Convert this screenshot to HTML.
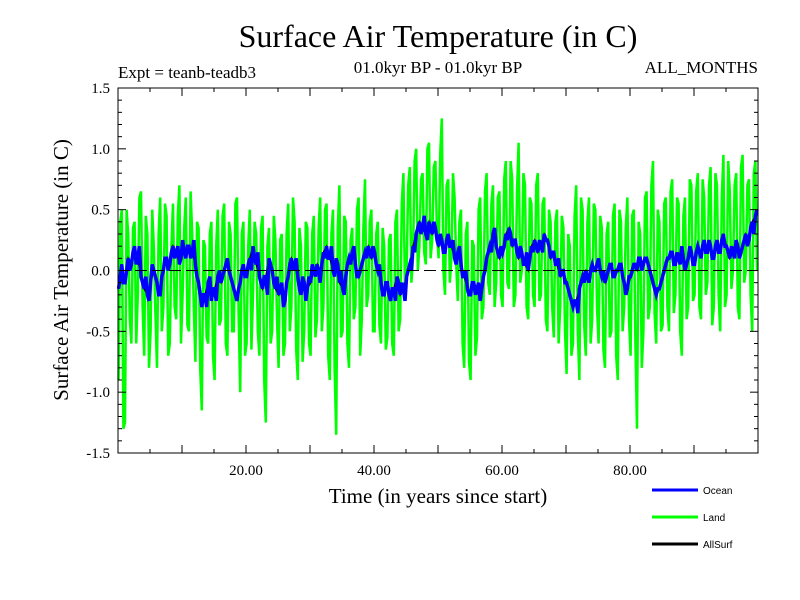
<!DOCTYPE html>
<html><head><meta charset="utf-8"><style>
body{margin:0;background:#fff}
svg{display:block}
text{font-family:"Liberation Serif",serif;fill:#000}
</style></head><body>
<svg id="chart" width="800" height="600">
<text x="438" y="47" font-size="32" text-anchor="middle">Surface Air Temperature (in C)</text>
<text x="118" y="78" font-size="17">Expt = teanb-teadb3</text>
<text x="438" y="73" font-size="17" text-anchor="middle">01.0kyr BP - 01.0kyr BP</text>
<text x="758" y="73" font-size="17" text-anchor="end">ALL_MONTHS</text>
<text x="438" y="503" font-size="21" text-anchor="middle">Time (in years since start)</text>
<text transform="translate(68,270) rotate(-90)" font-size="21" text-anchor="middle">Surface Air Temperature (in C)</text>
<g id="plot"></g>
<g id="axes"></g>
<g>
<g><line x1="652" y1="490" x2="698" y2="490" stroke="#0000ff" stroke-width="3"/><text x="703" y="494" font-size="10" style="font-family:'Liberation Sans',sans-serif">Ocean</text></g>
<g><line x1="652" y1="517" x2="698" y2="517" stroke="#00ff00" stroke-width="3"/><text x="703" y="521" font-size="10" style="font-family:'Liberation Sans',sans-serif">Land</text></g>
<g><line x1="652" y1="544" x2="698" y2="544" stroke="#000" stroke-width="3"/><text x="703" y="548" font-size="10" style="font-family:'Liberation Sans',sans-serif">AllSurf</text></g>
</g>
</svg>
<script>
const xTicks=[20,40,60,80];
const xTickLabels=["20.00","40.00","60.00","80.00"];
const yTicks=[-1.5,-1.0,-0.5,0.0,0.5,1.0,1.5];
const yTickLabels=["-1.5","-1.0","-0.5","0.0","0.5","1.0","1.5"];
const oceanValues=[
-0.15,0.05,-0.1,0.1,0.05,0.2,0.1,-0.05,-0.15,-0.2,-0.1,0.0,-0.1,-0.2,0.0,0.1,0.05,0.2,0.15,0.05,
0.25,0.1,0.2,0.15,0.05,-0.1,-0.3,-0.2,-0.1,-0.25,-0.15,-0.05,-0.1,0.0,0.1,-0.05,-0.15,-0.25,-0.1,0.05,
-0.05,0.1,0.2,0.05,-0.05,-0.15,-0.05,0.1,0.0,-0.15,-0.2,-0.1,-0.25,-0.05,0.1,0.05,-0.05,-0.2,-0.1,-0.15,
-0.1,0.0,0.05,-0.1,0.15,0.2,0.1,0.0,0.1,-0.1,-0.15,-0.05,0.1,0.15,0.05,-0.05,0.05,0.15,0.2,0.1,
0.15,0.0,-0.1,-0.2,-0.1,-0.25,-0.15,-0.05,-0.2,-0.15,-0.05,0.05,0.2,0.3,0.4,0.35,0.3,0.4,0.3,0.35,
0.2,0.25,0.15,0.3,0.2,0.1,0.15,0.05,-0.05,-0.15,-0.2,-0.1,-0.15,-0.25,-0.05,0.1,0.2,0.3,0.2,0.1,
0.15,0.3,0.35,0.2,0.25,0.1,0.15,0.05,0.0,0.2,0.25,0.15,0.2,0.3,0.25,0.1,0.15,0.05,-0.05,0.0,
-0.1,-0.2,-0.3,-0.25,-0.15,-0.05,0.0,-0.1,0.05,0.0,0.1,-0.05,-0.1,0.0,0.05,-0.05,0.0,0.05,-0.1,-0.15,
-0.05,0.05,0.0,0.1,0.05,0.1,0.0,-0.1,-0.2,-0.15,-0.05,0.05,0.1,0.15,0.05,0.1,0.2,0.0,0.1,0.15,
0.05,0.2,0.1,0.25,0.15,0.2,0.1,0.25,0.15,0.3,0.2,0.1,0.15,0.25,0.1,0.2,0.3,0.25,0.4,0.45];
const oceanValuesMid=[
-0.05,-0.1,0.0,0.0,0.15,0.05,0.2,-0.1,-0.05,-0.25,0.05,-0.05,-0.2,-0.05,0.1,0.0,0.15,0.1,0.2,0.1,
0.15,0.2,0.1,0.25,-0.05,-0.2,-0.2,-0.3,-0.05,-0.15,-0.25,0.0,-0.05,0.05,0.0,-0.1,-0.2,-0.15,0.0,-0.05,
0.05,0.0,0.1,0.15,-0.1,-0.05,-0.2,0.05,-0.1,-0.05,-0.15,-0.3,-0.1,0.05,0.0,0.1,-0.15,-0.05,-0.25,-0.05,
0.05,-0.05,0.0,0.05,0.1,0.1,0.2,-0.05,0.05,0.0,-0.2,0.05,0.05,0.2,-0.05,0.0,0.1,0.1,0.15,0.2,
0.05,0.05,-0.2,-0.1,-0.2,-0.15,-0.25,-0.1,-0.1,-0.25,0.0,0.0,0.15,0.35,0.3,0.45,0.25,0.35,0.4,0.25,
0.3,0.15,0.25,0.2,0.25,0.05,0.2,-0.05,0.0,-0.2,-0.1,-0.2,-0.1,-0.15,0.0,0.15,0.15,0.35,0.15,0.2,
0.2,0.25,0.3,0.25,0.15,0.2,0.05,0.15,0.1,0.15,0.2,0.25,0.15,0.25,0.2,0.15,0.05,0.1,0.0,-0.1,
-0.15,-0.25,-0.25,-0.35,-0.1,-0.1,-0.05,0.0,0.0,0.05,0.0,0.0,-0.05,0.05,-0.05,0.0,0.05,-0.05,-0.2,-0.05,
0.0,0.05,0.1,0.0,0.1,0.05,-0.05,-0.15,-0.15,-0.1,0.0,0.1,0.15,0.05,0.15,0.05,0.1,0.05,0.2,0.05,
0.15,0.15,0.2,0.15,0.25,0.1,0.2,0.15,0.25,0.2,0.15,0.2,0.1,0.2,0.15,0.25,0.2,0.35,0.3,0.5];
const landValues=[
-0.9,0.5,-1.25,0.3,-0.6,0.4,-0.2,0.65,-0.7,0.3,-0.5,0.2,-0.8,0.6,-0.3,0.45,-0.6,0.55,-0.4,0.7,
-0.2,0.6,-0.5,0.3,-0.75,0.35,-1.15,0.2,-0.6,0.4,-0.9,0.5,-0.4,0.55,-0.7,0.3,-0.5,0.6,-1.0,0.4,
-0.6,0.5,-0.2,0.3,-0.7,0.45,-1.25,0.35,-0.5,0.25,-0.8,0.3,-0.6,0.55,-0.3,0.4,-0.9,0.2,-0.5,0.35,
-0.7,0.45,-0.4,0.6,-0.3,0.55,-0.9,0.5,-1.35,0.7,-0.5,0.4,-0.8,0.35,-0.3,0.6,-0.4,0.75,-0.2,0.5,
-0.5,0.4,-0.6,0.2,-0.55,0.3,-0.7,0.5,-0.4,0.8,0.0,0.85,0.1,1.0,0.2,0.8,0.05,1.05,0.25,0.9,
0.1,1.25,-0.2,0.75,0.1,0.6,-0.25,0.5,-0.8,0.4,-0.9,0.2,-0.55,0.6,-0.3,0.8,-0.2,0.7,-0.1,0.65,
-0.3,0.9,-0.15,0.75,-0.2,1.05,0.0,0.7,-0.4,0.55,-0.3,0.8,-0.2,0.6,-0.5,0.4,-0.55,0.5,-0.3,0.35,
-0.85,0.2,-0.6,0.7,-0.9,0.5,-0.7,0.6,-0.4,0.5,-0.6,0.35,-0.8,0.4,-0.5,0.55,-0.9,0.4,-0.3,0.6,
-0.7,0.5,-1.3,0.3,-0.5,0.65,-0.3,0.9,-0.6,0.4,-0.45,0.6,-0.5,0.75,-0.2,0.55,-0.7,0.6,-0.3,0.7,
-0.2,0.8,-0.4,0.6,-0.1,0.85,-0.3,0.7,-0.5,0.95,-0.2,0.65,0.0,0.8,-0.4,0.95,0.0,0.75,-0.5,0.9];
const landValuesMid=[
0.4,-1.3,0.5,-0.4,0.35,-0.6,0.6,-0.3,0.45,-0.8,0.5,-0.35,0.3,-0.5,0.55,-0.7,0.2,-0.3,0.45,-0.6,
0.35,-0.45,0.65,-0.3,0.4,-0.8,0.25,-0.55,0.3,-0.7,0.2,-0.45,0.45,-0.6,0.4,-0.5,0.55,-0.35,0.3,-0.7,
0.2,-0.65,0.4,-0.5,0.35,-0.9,0.2,-0.6,0.45,-0.4,0.25,-0.7,0.3,-0.5,0.6,-0.65,0.35,-0.75,0.4,-0.6,
0.3,-0.55,0.35,-0.5,0.5,-0.7,0.3,-0.8,0.35,-0.55,0.45,-0.6,0.25,-0.4,0.5,-0.7,0.35,-0.3,0.4,-0.5,
0.3,-0.45,0.35,-0.65,0.25,-0.6,0.4,-0.5,0.55,-0.2,0.7,-0.1,0.9,0.0,0.75,0.15,1.0,0.1,0.85,0.3,
0.95,0.0,0.7,-0.1,0.8,0.05,0.4,-0.6,0.3,-0.75,0.25,-0.7,0.5,-0.4,0.65,-0.1,0.55,-0.3,0.6,-0.2,
0.75,-0.1,0.9,-0.3,0.65,-0.1,0.8,-0.3,0.6,-0.2,0.7,-0.25,0.55,-0.4,0.5,-0.3,0.4,-0.6,0.45,-0.5,
0.3,-0.7,0.45,-0.5,0.6,-0.45,0.4,-0.6,0.55,-0.3,0.45,-0.65,0.3,-0.55,0.45,-0.7,0.5,-0.5,0.35,-0.4,
0.45,-0.6,0.4,-0.8,0.6,-0.4,0.7,-0.35,0.5,-0.5,0.55,-0.3,0.65,-0.35,0.6,-0.5,0.45,-0.4,0.75,-0.25,
0.65,-0.3,0.75,-0.2,0.7,-0.45,0.8,-0.2,0.6,-0.3,0.9,-0.15,0.7,-0.3,0.85,-0.1,0.7,-0.2,0.8,0.0];
const allSurfValues=oceanValues;
const timeStep=0.5;

const X0=118,X1=758,Y0=88,Y1=453,XMIN=0,XMAX=100,YMIN=-1.5,YMAX=1.5;
const sx=v=>X0+(v-XMIN)/(XMAX-XMIN)*(X1-X0);
const sy=v=>Y1-(v-YMIN)/(YMAX-YMIN)*(Y1-Y0);
const NS="http://www.w3.org/2000/svg";
const plot=document.getElementById('plot'),axes=document.getElementById('axes');
function mk(tag,attrs,parent){const e=document.createElementNS(NS,tag);for(const k in attrs)e.setAttribute(k,attrs[k]);parent.appendChild(e);return e;}
function pointsOf(a,b){
  const pts=[];
  a.forEach((v,i)=>{
    pts.push(sx(i*timeStep+0.1).toFixed(1)+","+sy(v).toFixed(1));
    if(b) pts.push(sx(i*timeStep+0.35).toFixed(1)+","+sy(b[i]).toFixed(1));
  });
  return pts.join(" ");
}
function series(a,b,color,w,name){
  const p=mk('polyline',{points:pointsOf(a,b),fill:'none',stroke:color,'stroke-width':w,'stroke-linejoin':'miter'},plot);
  
  
}
series(landValues,landValuesMid,'#00ff00',2.5,'land-line');
series(allSurfValues,null,'#000000',1.5,'allsurf-line');
series(oceanValues,oceanValuesMid,'#0000ff',3.5,'ocean-line');
const zl=mk('line',{x1:X0,x2:X1,y1:sy(0),y2:sy(0),stroke:'#000','stroke-width':1,'stroke-dasharray':'12,5'},plot);


const fr=mk('rect',{x:X0,y:Y0,width:X1-X0,height:Y1-Y0,fill:'none',stroke:'#000','stroke-width':1},axes);


for(let k=-15;k<=15;k++){
  const v=k/10,y=sy(v),major=(k%5===0),L=major?8:4;
  mk('line',{x1:X0,x2:X0+L,y1:y,y2:y,stroke:'#000'},axes);
  mk('line',{x1:X1-L,x2:X1,y1:y,y2:y,stroke:'#000'},axes);
}
yTicks.forEach((v,i)=>{
  const t=mk('text',{x:X0-8,y:sy(v)+5,'font-size':15,'text-anchor':'end'},axes);
  t.textContent=yTickLabels[i];
  
  
});
for(let v=5;v<100;v+=5){
  const L=(v%10===0)?8:4;
  mk('line',{x1:sx(v),x2:sx(v),y1:Y1-L,y2:Y1,stroke:'#000'},axes);
  mk('line',{x1:sx(v),x2:sx(v),y1:Y0,y2:Y0+L,stroke:'#000'},axes);
}
xTicks.forEach((v,i)=>{
  const t=mk('text',{x:sx(v),y:Y1+22,'font-size':15,'text-anchor':'middle'},axes);
  t.textContent=xTickLabels[i];
  
  
});
</script>
</body></html>
